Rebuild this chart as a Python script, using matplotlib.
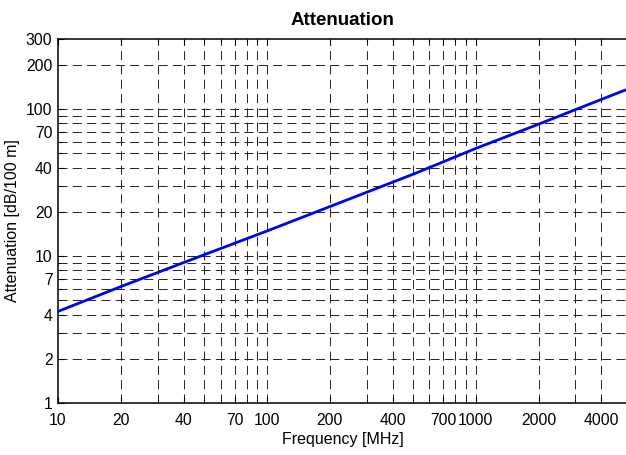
import matplotlib
matplotlib.use("Agg")
import matplotlib.pyplot as plt
from matplotlib.ticker import FixedLocator, NullFormatter

plt.rcParams['font.family'] = ['Liberation Sans', 'DejaVu Sans']
plt.rcParams['lines.scale_dashes'] = False

# values
freq = [10, 20, 50, 100, 200, 500, 1000, 2000, 5000, 5300]
atten = [4.2, 6.2, 10.2, 14.8, 21.7, 36, 54, 79, 132, 136]

x_ticks = [10, 20, 40, 70, 100, 200, 400, 700, 1000, 2000, 4000]
x_grid = [20, 30, 40, 50, 60, 70, 80, 90, 100, 200, 300, 400, 500, 600,
          700, 800, 900, 1000, 2000, 3000, 4000]
y_ticks = [1, 2, 4, 7, 10, 20, 40, 70, 100, 200, 300]
y_grid = [2, 3, 4, 5, 6, 7, 8, 9, 10, 20, 30, 40, 50, 60, 70, 80, 90,
          100, 200]

fig = plt.figure(figsize=(6.26, 4.55), dpi=100)
ax = fig.add_axes([58 / 626, 52 / 455, 569 / 626, 364 / 455])

for x in x_grid:
    ax.axvline(x, color='#222222', lw=0.7, ls=(0, (6.5, 3.8)), zorder=1)
for y in y_grid:
    ax.axhline(y, color='#222222', lw=0.7, ls=(0, (6.5, 3.8)), zorder=1)

ax.plot(freq, atten, color='#0000ff', lw=2.0, zorder=3)

ax.set_xscale('log')
ax.set_yscale('log')
ax.set_xlim(10, 5300)
ax.set_ylim(1, 300)

ax.xaxis.set_major_locator(FixedLocator(x_ticks))
ax.xaxis.set_minor_locator(FixedLocator(x_grid))
ax.xaxis.set_minor_formatter(NullFormatter())
ax.set_xticklabels([str(v) for v in x_ticks])
ax.yaxis.set_major_locator(FixedLocator(y_ticks))
ax.yaxis.set_minor_locator(FixedLocator(y_grid))
ax.yaxis.set_minor_formatter(NullFormatter())
ax.set_yticklabels([str(v) for v in y_ticks])

ax.tick_params(which='both', direction='in', top=True, right=False,
               labelsize=11.3)
ax.tick_params(axis='x', pad=7)
ax.tick_params(axis='y', pad=4)
ax.tick_params(which='major', length=4, width=0.8)
ax.tick_params(which='minor', length=2.5, width=0.8)

for s in ax.spines.values():
    s.set_linewidth(1.1)
ax.spines['right'].set_visible(False)

ax.set_title('Attenuation', fontsize=13.5, fontweight='bold', pad=10)
ax.set_xlabel('Frequency [MHz]', fontsize=11.5, labelpad=3)
ax.set_ylabel('Attenuation [dB/100 m]', fontsize=11.5, labelpad=4)

fig.savefig('out.png', dpi=100)
